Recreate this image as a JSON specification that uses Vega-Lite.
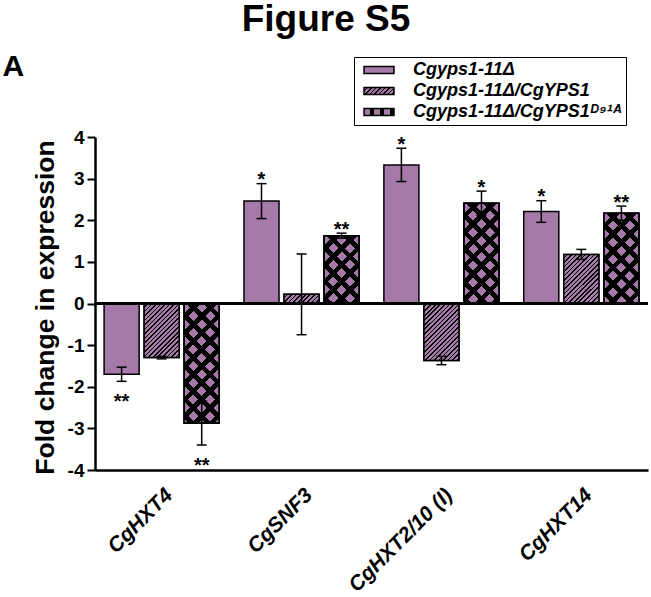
{
  "$schema": "https://vega.github.io/schema/vega-lite/v6.json",
  "width": 553,
  "height": 333,
  "autosize": {"type": "none"},
  "padding": {"left": 95, "top": 137, "right": 3, "bottom": 127},
  "background": "white",
  "config": {"view": {"stroke": null}, "axis": {"grid": false}, "font": "Liberation Sans"},
  "title": {"text": "Figure S5", "fontSize": 37, "fontWeight": "bold", "font": "Liberation Sans", "color": "black", "anchor": "middle", "frame": "group", "dx": -45.5, "offset": 12},
  "params": [
    {"name": "hatchStops", "value": [
      {"offset": 0, "color": "#a67aa8"}, {"offset": 0.027083, "color": "#a67aa8"}, {"offset": 0.027083, "color": "#000000"}, {"offset": 0.041667, "color": "#000000"},
      {"offset": 0.041667, "color": "#a67aa8"}, {"offset": 0.06875, "color": "#a67aa8"}, {"offset": 0.06875, "color": "#000000"}, {"offset": 0.083333, "color": "#000000"},
      {"offset": 0.083333, "color": "#a67aa8"}, {"offset": 0.110417, "color": "#a67aa8"}, {"offset": 0.110417, "color": "#000000"}, {"offset": 0.125, "color": "#000000"},
      {"offset": 0.125, "color": "#a67aa8"}, {"offset": 0.152083, "color": "#a67aa8"}, {"offset": 0.152083, "color": "#000000"}, {"offset": 0.166667, "color": "#000000"},
      {"offset": 0.166667, "color": "#a67aa8"}, {"offset": 0.19375, "color": "#a67aa8"}, {"offset": 0.19375, "color": "#000000"}, {"offset": 0.208333, "color": "#000000"},
      {"offset": 0.208333, "color": "#a67aa8"}, {"offset": 0.235417, "color": "#a67aa8"}, {"offset": 0.235417, "color": "#000000"}, {"offset": 0.25, "color": "#000000"},
      {"offset": 0.25, "color": "#a67aa8"}, {"offset": 0.277083, "color": "#a67aa8"}, {"offset": 0.277083, "color": "#000000"}, {"offset": 0.291667, "color": "#000000"},
      {"offset": 0.291667, "color": "#a67aa8"}, {"offset": 0.31875, "color": "#a67aa8"}, {"offset": 0.31875, "color": "#000000"}, {"offset": 0.333333, "color": "#000000"},
      {"offset": 0.333333, "color": "#a67aa8"}, {"offset": 0.360417, "color": "#a67aa8"}, {"offset": 0.360417, "color": "#000000"}, {"offset": 0.375, "color": "#000000"},
      {"offset": 0.375, "color": "#a67aa8"}, {"offset": 0.402083, "color": "#a67aa8"}, {"offset": 0.402083, "color": "#000000"}, {"offset": 0.416667, "color": "#000000"},
      {"offset": 0.416667, "color": "#a67aa8"}, {"offset": 0.44375, "color": "#a67aa8"}, {"offset": 0.44375, "color": "#000000"}, {"offset": 0.458333, "color": "#000000"},
      {"offset": 0.458333, "color": "#a67aa8"}, {"offset": 0.485417, "color": "#a67aa8"}, {"offset": 0.485417, "color": "#000000"}, {"offset": 0.5, "color": "#000000"},
      {"offset": 0.5, "color": "#a67aa8"}, {"offset": 0.527083, "color": "#a67aa8"}, {"offset": 0.527083, "color": "#000000"}, {"offset": 0.541667, "color": "#000000"},
      {"offset": 0.541667, "color": "#a67aa8"}, {"offset": 0.56875, "color": "#a67aa8"}, {"offset": 0.56875, "color": "#000000"}, {"offset": 0.583333, "color": "#000000"},
      {"offset": 0.583333, "color": "#a67aa8"}, {"offset": 0.610417, "color": "#a67aa8"}, {"offset": 0.610417, "color": "#000000"}, {"offset": 0.625, "color": "#000000"},
      {"offset": 0.625, "color": "#a67aa8"}, {"offset": 0.652083, "color": "#a67aa8"}, {"offset": 0.652083, "color": "#000000"}, {"offset": 0.666667, "color": "#000000"},
      {"offset": 0.666667, "color": "#a67aa8"}, {"offset": 0.69375, "color": "#a67aa8"}, {"offset": 0.69375, "color": "#000000"}, {"offset": 0.708333, "color": "#000000"},
      {"offset": 0.708333, "color": "#a67aa8"}, {"offset": 0.735417, "color": "#a67aa8"}, {"offset": 0.735417, "color": "#000000"}, {"offset": 0.75, "color": "#000000"},
      {"offset": 0.75, "color": "#a67aa8"}, {"offset": 0.777083, "color": "#a67aa8"}, {"offset": 0.777083, "color": "#000000"}, {"offset": 0.791667, "color": "#000000"},
      {"offset": 0.791667, "color": "#a67aa8"}, {"offset": 0.81875, "color": "#a67aa8"}, {"offset": 0.81875, "color": "#000000"}, {"offset": 0.833333, "color": "#000000"},
      {"offset": 0.833333, "color": "#a67aa8"}, {"offset": 0.860417, "color": "#a67aa8"}, {"offset": 0.860417, "color": "#000000"}, {"offset": 0.875, "color": "#000000"},
      {"offset": 0.875, "color": "#a67aa8"}, {"offset": 0.902083, "color": "#a67aa8"}, {"offset": 0.902083, "color": "#000000"}, {"offset": 0.916667, "color": "#000000"},
      {"offset": 0.916667, "color": "#a67aa8"}, {"offset": 0.94375, "color": "#a67aa8"}, {"offset": 0.94375, "color": "#000000"}, {"offset": 0.958333, "color": "#000000"},
      {"offset": 0.958333, "color": "#a67aa8"}, {"offset": 0.985417, "color": "#a67aa8"}, {"offset": 0.985417, "color": "#000000"}, {"offset": 1, "color": "#000000"}
    ]},
    {"name": "crossStops", "value": [
      {"offset": 0, "color": "#a67aa8"}, {"offset": 0.03, "color": "#a67aa8"}, {"offset": 0.03, "color": "#000000"}, {"offset": 0.05, "color": "#000000"},
      {"offset": 0.05, "color": "#a67aa8"}, {"offset": 0.08, "color": "#a67aa8"}, {"offset": 0.08, "color": "#000000"}, {"offset": 0.1, "color": "#000000"},
      {"offset": 0.1, "color": "#a67aa8"}, {"offset": 0.13, "color": "#a67aa8"}, {"offset": 0.13, "color": "#000000"}, {"offset": 0.15, "color": "#000000"},
      {"offset": 0.15, "color": "#a67aa8"}, {"offset": 0.18, "color": "#a67aa8"}, {"offset": 0.18, "color": "#000000"}, {"offset": 0.2, "color": "#000000"},
      {"offset": 0.2, "color": "#a67aa8"}, {"offset": 0.23, "color": "#a67aa8"}, {"offset": 0.23, "color": "#000000"}, {"offset": 0.25, "color": "#000000"},
      {"offset": 0.25, "color": "#a67aa8"}, {"offset": 0.28, "color": "#a67aa8"}, {"offset": 0.28, "color": "#000000"}, {"offset": 0.3, "color": "#000000"},
      {"offset": 0.3, "color": "#a67aa8"}, {"offset": 0.33, "color": "#a67aa8"}, {"offset": 0.33, "color": "#000000"}, {"offset": 0.35, "color": "#000000"},
      {"offset": 0.35, "color": "#a67aa8"}, {"offset": 0.38, "color": "#a67aa8"}, {"offset": 0.38, "color": "#000000"}, {"offset": 0.4, "color": "#000000"},
      {"offset": 0.4, "color": "#a67aa8"}, {"offset": 0.43, "color": "#a67aa8"}, {"offset": 0.43, "color": "#000000"}, {"offset": 0.45, "color": "#000000"},
      {"offset": 0.45, "color": "#a67aa8"}, {"offset": 0.48, "color": "#a67aa8"}, {"offset": 0.48, "color": "#000000"}, {"offset": 0.5, "color": "#000000"},
      {"offset": 0.5, "color": "#a67aa8"}, {"offset": 0.53, "color": "#a67aa8"}, {"offset": 0.53, "color": "#000000"}, {"offset": 0.55, "color": "#000000"},
      {"offset": 0.55, "color": "#a67aa8"}, {"offset": 0.58, "color": "#a67aa8"}, {"offset": 0.58, "color": "#000000"}, {"offset": 0.6, "color": "#000000"},
      {"offset": 0.6, "color": "#a67aa8"}, {"offset": 0.63, "color": "#a67aa8"}, {"offset": 0.63, "color": "#000000"}, {"offset": 0.65, "color": "#000000"},
      {"offset": 0.65, "color": "#a67aa8"}, {"offset": 0.68, "color": "#a67aa8"}, {"offset": 0.68, "color": "#000000"}, {"offset": 0.7, "color": "#000000"},
      {"offset": 0.7, "color": "#a67aa8"}, {"offset": 0.73, "color": "#a67aa8"}, {"offset": 0.73, "color": "#000000"}, {"offset": 0.75, "color": "#000000"},
      {"offset": 0.75, "color": "#a67aa8"}, {"offset": 0.78, "color": "#a67aa8"}, {"offset": 0.78, "color": "#000000"}, {"offset": 0.8, "color": "#000000"},
      {"offset": 0.8, "color": "#a67aa8"}, {"offset": 0.83, "color": "#a67aa8"}, {"offset": 0.83, "color": "#000000"}, {"offset": 0.85, "color": "#000000"},
      {"offset": 0.85, "color": "#a67aa8"}, {"offset": 0.88, "color": "#a67aa8"}, {"offset": 0.88, "color": "#000000"}, {"offset": 0.9, "color": "#000000"},
      {"offset": 0.9, "color": "#a67aa8"}, {"offset": 0.93, "color": "#a67aa8"}, {"offset": 0.93, "color": "#000000"}, {"offset": 0.95, "color": "#000000"},
      {"offset": 0.95, "color": "#a67aa8"}, {"offset": 0.98, "color": "#a67aa8"}, {"offset": 0.98, "color": "#000000"}, {"offset": 1, "color": "#000000"}
    ]},
    {"name": "crossStops2", "value": [
      {"offset": 0, "color": "rgba(0,0,0,0)"}, {"offset": 0.03, "color": "rgba(0,0,0,0)"}, {"offset": 0.03, "color": "#000000"}, {"offset": 0.05, "color": "#000000"},
      {"offset": 0.05, "color": "rgba(0,0,0,0)"}, {"offset": 0.08, "color": "rgba(0,0,0,0)"}, {"offset": 0.08, "color": "#000000"}, {"offset": 0.1, "color": "#000000"},
      {"offset": 0.1, "color": "rgba(0,0,0,0)"}, {"offset": 0.13, "color": "rgba(0,0,0,0)"}, {"offset": 0.13, "color": "#000000"}, {"offset": 0.15, "color": "#000000"},
      {"offset": 0.15, "color": "rgba(0,0,0,0)"}, {"offset": 0.18, "color": "rgba(0,0,0,0)"}, {"offset": 0.18, "color": "#000000"}, {"offset": 0.2, "color": "#000000"},
      {"offset": 0.2, "color": "rgba(0,0,0,0)"}, {"offset": 0.23, "color": "rgba(0,0,0,0)"}, {"offset": 0.23, "color": "#000000"}, {"offset": 0.25, "color": "#000000"},
      {"offset": 0.25, "color": "rgba(0,0,0,0)"}, {"offset": 0.28, "color": "rgba(0,0,0,0)"}, {"offset": 0.28, "color": "#000000"}, {"offset": 0.3, "color": "#000000"},
      {"offset": 0.3, "color": "rgba(0,0,0,0)"}, {"offset": 0.33, "color": "rgba(0,0,0,0)"}, {"offset": 0.33, "color": "#000000"}, {"offset": 0.35, "color": "#000000"},
      {"offset": 0.35, "color": "rgba(0,0,0,0)"}, {"offset": 0.38, "color": "rgba(0,0,0,0)"}, {"offset": 0.38, "color": "#000000"}, {"offset": 0.4, "color": "#000000"},
      {"offset": 0.4, "color": "rgba(0,0,0,0)"}, {"offset": 0.43, "color": "rgba(0,0,0,0)"}, {"offset": 0.43, "color": "#000000"}, {"offset": 0.45, "color": "#000000"},
      {"offset": 0.45, "color": "rgba(0,0,0,0)"}, {"offset": 0.48, "color": "rgba(0,0,0,0)"}, {"offset": 0.48, "color": "#000000"}, {"offset": 0.5, "color": "#000000"},
      {"offset": 0.5, "color": "rgba(0,0,0,0)"}, {"offset": 0.53, "color": "rgba(0,0,0,0)"}, {"offset": 0.53, "color": "#000000"}, {"offset": 0.55, "color": "#000000"},
      {"offset": 0.55, "color": "rgba(0,0,0,0)"}, {"offset": 0.58, "color": "rgba(0,0,0,0)"}, {"offset": 0.58, "color": "#000000"}, {"offset": 0.6, "color": "#000000"},
      {"offset": 0.6, "color": "rgba(0,0,0,0)"}, {"offset": 0.63, "color": "rgba(0,0,0,0)"}, {"offset": 0.63, "color": "#000000"}, {"offset": 0.65, "color": "#000000"},
      {"offset": 0.65, "color": "rgba(0,0,0,0)"}, {"offset": 0.68, "color": "rgba(0,0,0,0)"}, {"offset": 0.68, "color": "#000000"}, {"offset": 0.7, "color": "#000000"},
      {"offset": 0.7, "color": "rgba(0,0,0,0)"}, {"offset": 0.73, "color": "rgba(0,0,0,0)"}, {"offset": 0.73, "color": "#000000"}, {"offset": 0.75, "color": "#000000"},
      {"offset": 0.75, "color": "rgba(0,0,0,0)"}, {"offset": 0.78, "color": "rgba(0,0,0,0)"}, {"offset": 0.78, "color": "#000000"}, {"offset": 0.8, "color": "#000000"},
      {"offset": 0.8, "color": "rgba(0,0,0,0)"}, {"offset": 0.83, "color": "rgba(0,0,0,0)"}, {"offset": 0.83, "color": "#000000"}, {"offset": 0.85, "color": "#000000"},
      {"offset": 0.85, "color": "rgba(0,0,0,0)"}, {"offset": 0.88, "color": "rgba(0,0,0,0)"}, {"offset": 0.88, "color": "#000000"}, {"offset": 0.9, "color": "#000000"},
      {"offset": 0.9, "color": "rgba(0,0,0,0)"}, {"offset": 0.93, "color": "rgba(0,0,0,0)"}, {"offset": 0.93, "color": "#000000"}, {"offset": 0.95, "color": "#000000"},
      {"offset": 0.95, "color": "rgba(0,0,0,0)"}, {"offset": 0.98, "color": "rgba(0,0,0,0)"}, {"offset": 0.98, "color": "#000000"}, {"offset": 1, "color": "#000000"}
    ]}
  ],
  "datasets": {
    "rows": [
      {"gene": "CgHXT4", "strain": "Cgyps1-11Δ", "value": -1.7, "err": 0.17, "sig": "**"},
      {"gene": "CgHXT4", "strain": "Cgyps1-11Δ/CgYPS1", "value": -1.3, "err": 0.03, "sig": ""},
      {"gene": "CgHXT4", "strain": "Cgyps1-11Δ/CgYPS1ᴰ⁹¹ᴬ", "value": -2.87, "err": 0.53, "sig": "**"},
      {"gene": "CgSNF3", "strain": "Cgyps1-11Δ", "value": 2.46, "err": 0.42, "sig": "*"},
      {"gene": "CgSNF3", "strain": "Cgyps1-11Δ/CgYPS1", "value": 0.22, "err": 0.97, "sig": ""},
      {"gene": "CgSNF3", "strain": "Cgyps1-11Δ/CgYPS1ᴰ⁹¹ᴬ", "value": 1.63, "err": 0.06, "sig": "**"},
      {"gene": "CgHXT2/10 (I)", "strain": "Cgyps1-11Δ", "value": 3.33, "err": 0.4, "sig": "*"},
      {"gene": "CgHXT2/10 (I)", "strain": "Cgyps1-11Δ/CgYPS1", "value": -1.37, "err": 0.1, "sig": ""},
      {"gene": "CgHXT2/10 (I)", "strain": "Cgyps1-11Δ/CgYPS1ᴰ⁹¹ᴬ", "value": 2.41, "err": 0.29, "sig": "*"},
      {"gene": "CgHXT14", "strain": "Cgyps1-11Δ", "value": 2.21, "err": 0.26, "sig": "*"},
      {"gene": "CgHXT14", "strain": "Cgyps1-11Δ/CgYPS1", "value": 1.18, "err": 0.12, "sig": ""},
      {"gene": "CgHXT14", "strain": "Cgyps1-11Δ/CgYPS1ᴰ⁹¹ᴬ", "value": 2.17, "err": 0.17, "sig": "**"}
    ]
  },
  "data": {"name": "rows"},
  "resolve": {"scale": {"x": "independent"}, "axis": {"x": "independent"}},
  "layer": [
    {
      "encoding": {
        "x": {"field": "gene", "type": "nominal", "scale": {"type": "band", "domain": ["CgHXT4", "CgSNF3", "CgHXT2/10 (I)", "CgHXT14"], "paddingInner": 0.177, "paddingOuter": 0.065},
          "axis": {"orient": "top", "labels": false, "ticks": false, "domain": false, "title": "A", "titleX": -93, "titleY": -62, "titleAlign": "left", "titleBaseline": "alphabetic", "titleAngle": 0, "titleFontSize": 30, "titleFontWeight": "bold", "titleFont": "Liberation Sans", "titleColor": "black"}},
        "xOffset": {"field": "strain", "type": "nominal", "scale": {"type": "band", "domain": ["Cgyps1-11Δ", "Cgyps1-11Δ/CgYPS1", "Cgyps1-11Δ/CgYPS1ᴰ⁹¹ᴬ"], "paddingInner": 0.125, "paddingOuter": 0}}
      },
      "layer": [
        {
          "mark": {"type": "bar", "stroke": "black", "strokeWidth": 1.5},
          "encoding": {
            "y": {"field": "value", "type": "quantitative", "scale": {"domain": [-4, 4], "nice": false},
              "axis": {"values": [-4, -3, -2, -1, 0, 1, 2, 3, 4], "labelExpr": "'' + datum.value", "domainColor": "black", "domainWidth": 2.5, "tickColor": "black", "tickWidth": 2, "tickSize": 8, "labelFontSize": 19, "labelFontWeight": "bold", "labelColor": "black", "labelPadding": 3, "labelFont": "Liberation Sans",
                "title": "Fold change in expression", "titleFontSize": 26.5, "titleFontWeight": "bold", "titleColor": "black", "titleFont": "Liberation Sans", "titleX": -42, "titleY": 170, "titleAngle": -90, "titleBaseline": "alphabetic", "titleAlign": "center"}},
            "color": {"field": "strain", "type": "nominal",
              "scale": {"domain": ["Cgyps1-11Δ", "Cgyps1-11Δ/CgYPS1", "Cgyps1-11Δ/CgYPS1ᴰ⁹¹ᴬ"],
                "range": ["#a67aa8", {"expr": "{gradient: 'linear', x1: 0, y1: 0, x2: 3.4, y2: 0.8, stops: hatchStops}"}, {"expr": "{gradient: 'linear', x1: 0, y1: 0, x2: 6.67, y2: 0, stops: crossStops}"}]},
              "legend": {"orient": "none", "legendX": 259, "legendY": -80, "title": null, "strokeColor": "black", "padding": 4,
                "symbolType": "M-2.14,-0.5H2.14V0.5H-2.14Z", "symbolSize": 196, "symbolStrokeColor": "black", "symbolStrokeWidth": 1.5, "symbolOffset": 12, "symbolOpacity": 1,
                "labelOffset": 25, "labelFont": "Liberation Sans", "labelFontSize": 18, "labelFontWeight": "bold", "labelFontStyle": "italic", "labelColor": "black", "labelLimit": 400, "rowPadding": 3}}
          }
        },
        {
          "transform": [{"filter": {"field": "strain", "oneOf": ["Cgyps1-11Δ/CgYPS1", "Cgyps1-11Δ/CgYPS1ᴰ⁹¹ᴬ"]}}],
          "mark": {"type": "bar", "stroke": "black", "strokeWidth": 1.5,
            "fill": {"expr": "datum.strain === 'Cgyps1-11Δ/CgYPS1' ? {gradient: 'linear', x1: 0, y1: 0, x2: 35*108.6/(1225+pow(abs(datum.value)*41.625,2)), y2: abs(datum.value)*41.625*108.6/(1225+pow(abs(datum.value)*41.625,2)), stops: hatchStops} : {gradient: 'linear', x1: 0, y1: 0, x2: 35*333.7/(1225+pow(abs(datum.value)*41.625,2)), y2: abs(datum.value)*41.625*333.7/(1225+pow(abs(datum.value)*41.625,2)), stops: crossStops}"}},
          "encoding": {"y": {"field": "value", "type": "quantitative"}}
        },
        {
          "transform": [{"filter": {"field": "strain", "oneOf": ["Cgyps1-11Δ/CgYPS1ᴰ⁹¹ᴬ"]}}],
          "mark": {"type": "bar", "stroke": "black", "strokeWidth": 1.5,
            "fill": {"expr": "{gradient: 'linear', x1: 1, y1: 0, x2: 1-35*333.7/(1225+pow(abs(datum.value)*41.625,2)), y2: abs(datum.value)*41.625*333.7/(1225+pow(abs(datum.value)*41.625,2)), stops: crossStops2}"}},
          "encoding": {"y": {"field": "value", "type": "quantitative"}}
        },
        {
          "transform": [{"calculate": "datum.value - datum.err", "as": "lo"}, {"calculate": "datum.value + datum.err", "as": "hi"}],
          "layer": [
            {"mark": {"type": "rule", "color": "black", "strokeWidth": 1.5},
             "encoding": {"y": {"field": "lo", "type": "quantitative"}, "y2": {"field": "hi"}}},
            {"mark": {"type": "tick", "color": "black", "thickness": 1.5, "size": 10, "opacity": 1},
             "encoding": {"y": {"field": "lo", "type": "quantitative"}}},
            {"mark": {"type": "tick", "color": "black", "thickness": 1.5, "size": 10, "opacity": 1},
             "encoding": {"y": {"field": "hi", "type": "quantitative"}}}
          ]
        },
        {
          "transform": [{"filter": "datum.sig !== '' && datum.value >= 0"}, {"calculate": "datum.value + datum.err", "as": "end"}],
          "mark": {"type": "text", "fontSize": 20, "fontWeight": "bold", "baseline": "alphabetic", "align": "center", "dy": 2.5, "color": "black", "font": "Liberation Sans"},
          "encoding": {"y": {"field": "end", "type": "quantitative"}, "text": {"field": "sig"}}
        },
        {
          "transform": [{"filter": "datum.sig !== '' && datum.value < 0"}, {"calculate": "datum.value - datum.err", "as": "end"}],
          "mark": {"type": "text", "fontSize": 20, "fontWeight": "bold", "baseline": "alphabetic", "align": "center", "dy": 27, "color": "black", "font": "Liberation Sans"},
          "encoding": {"y": {"field": "end", "type": "quantitative"}, "text": {"field": "sig"}}
        }
      ]
    },
    {
      "mark": {"type": "rule", "color": "black", "strokeWidth": 2.5},
      "encoding": {"y": {"datum": 0, "type": "quantitative"}}
    },
    {
      "mark": {"type": "point", "opacity": 0},
      "encoding": {
        "x": {"field": "gene", "type": "nominal", "scale": {"type": "band", "domain": ["CgHXT4", "CgSNF3", "CgHXT2/10 (I)", "CgHXT14"], "paddingInner": 0.177, "paddingOuter": 0.065},
          "axis": {"orient": "bottom", "title": null, "labelAngle": -45, "labelFont": "Liberation Sans", "labelFontSize": 21, "labelFontWeight": "bold", "labelFontStyle": "italic", "labelColor": "black", "labelPadding": 14, "ticks": false, "domain": true, "domainColor": "black", "domainWidth": 2.5, "labelLimit": 300}},
        "y": {"datum": 0, "type": "quantitative"}
      }
    }
  ]
}
